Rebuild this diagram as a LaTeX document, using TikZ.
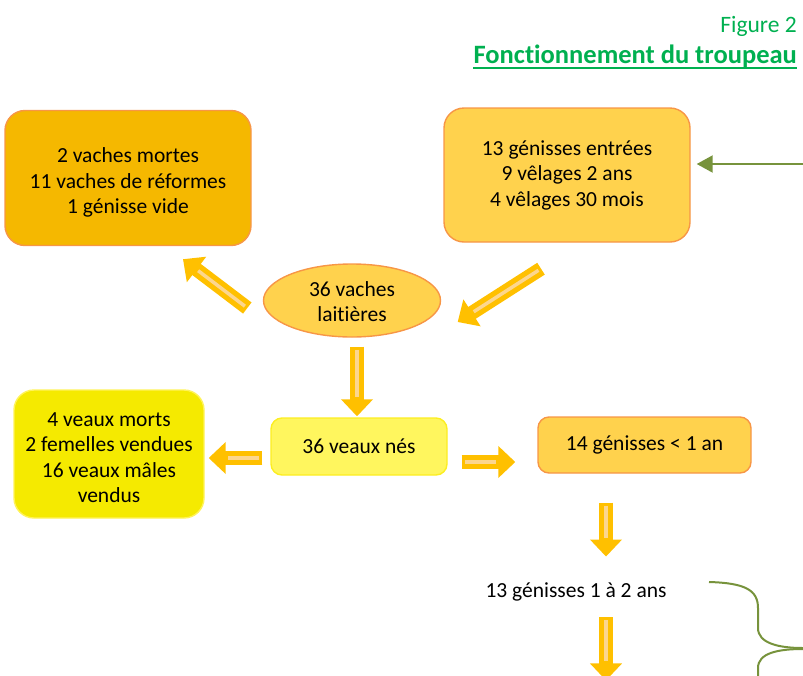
\documentclass[tikz,border=0pt]{standalone}
\usepackage{fontspec}
\setmainfont{Carlito}[Ligatures=NoCommon]
\usetikzlibrary{arrows.meta,shapes.geometric}
\definecolor{ambre}{HTML}{F5B800}
\definecolor{ambreclair}{HTML}{FFD24D}
\definecolor{bordorange}{HTML}{F79646}
\definecolor{jaune}{HTML}{F5EA00}
\definecolor{jaunebord}{HTML}{FFF35A}
\definecolor{jauneclair}{HTML}{FFF65E}
\definecolor{jauneclairbord}{HTML}{FCEE21}
\definecolor{fleche}{HTML}{FFC000}
\definecolor{rayure}{HTML}{FCD68E}
\definecolor{olive}{HTML}{77933C}
\definecolor{titrevert}{HTML}{00B050}
\tikzset{
  boite/.style={rounded corners=20pt, line width=1.4pt, align=center, inner sep=0pt,
    font=\fontsize{21.5}{25.5}\selectfont},
  flux/.style={fleche, line width=14pt, -{Triangle[width=31pt,length=17pt]}},
  rayon/.style={rayure, line width=3.5pt, shorten >=19pt, shorten <=3pt},
}
\begin{document}
\begin{tikzpicture}[x=1pt, y=-1pt]
  \clip (0,0) rectangle (803,675);
  \node[anchor=base east, inner sep=0pt, titrevert, font=\fontsize{23.5}{26}\selectfont] (fig) at (797,32) {Figure 2};
  \node[anchor=base east, inner sep=0pt, titrevert, font=\fontsize{26.5}{30}\selectfont\bfseries] (titre) at (797,63) {Fonctionnement du troupeau};
  \draw[titrevert, line width=2pt] ([yshift=-5pt]titre.base west) -- ([yshift=-5pt]titre.base east);
  \node[boite, fill=ambre, draw=bordorange, minimum width=246pt, minimum height=135pt] (mortes) at (128,178)
    {\rule{0pt}{24pt}2 vaches mortes\\11 vaches de réformes\\1 génisse vide};
  \node[boite, fill=ambreclair, draw=bordorange, minimum width=246pt, minimum height=134pt] (entrees) at (567,175)
    {13 génisses entrées\\9 vêlages 2 ans\\4 vêlages 30 mois};
  \node[ellipse, fill=ambreclair, draw=bordorange, line width=1.4pt, align=center, inner sep=0pt,
    minimum width=177pt, minimum height=73pt, font=\fontsize{21.5}{25}\selectfont] (laitieres) at (352,300.5)
    {\rule{0pt}{18pt}36 vaches\\laitières};
  \node[boite, rounded corners=11pt, fill=jauneclair, draw=jauneclairbord, minimum width=176pt, minimum height=57pt] (nes) at (359,446.5)
    {36 veaux nés};
  \node[boite, fill=jaune, draw=jaunebord, minimum width=190pt, minimum height=128pt] (veaux) at (109,454)
    {\rule{0pt}{21pt}4 veaux morts\\2 femelles vendues\\16 veaux mâles\\vendus};
  \node[boite, rounded corners=11pt, fill=ambreclair, draw=bordorange, minimum width=213pt, minimum height=56pt] (gen1) at (644.5,445)
    {14 génisses < 1 an};
  \node[font=\fontsize{21.5}{25}\selectfont, inner sep=0pt] (gen2) at (576,592) {13 génisses 1 à 2 ans};
  \coordinate (a1) at ([shift={(-15.5,7.5)}]laitieres.west);
  \coordinate (b1) at ([shift={(55,13)}]mortes.south);
  \coordinate (a2) at ([shift={(-26,26)}]entrees.south);
  \coordinate (b2) at ([shift={(16.5,21.5)}]laitieres.east);
  \coordinate (a3) at ([shift={(5,9)}]laitieres.south);
  \coordinate (b3) at ([shift={(-2,-1)}]nes.north);
  \coordinate (a4) at ([shift={(-8,11.5)}]nes.west);
  \coordinate (b4) at ([shift={(4,4)}]veaux.east);
  \coordinate (a5) at ([shift={(14,15.5)}]nes.east);
  \coordinate (b5) at ([shift={(-22,17)}]gen1.west);
  \coordinate (a6) at ([shift={(-38.5,29)}]gen1.south);
  \coordinate (b6) at ([shift={(30,-26)}]gen2.north);
  \coordinate (a7) at ([shift={(30,16)}]gen2.south);
  \coordinate (b7) at ([shift={(30,79)}]gen2.south);
  \foreach \i in {1,...,7} {
    \draw[flux] (a\i) -- (b\i);
    \draw[rayon] (a\i) -- (b\i);
  }
  \coordinate (depart) at (803,164);
  \draw[olive, line width=2pt, -{Triangle[width=17pt,length=16pt]}] (depart) -- ([shift={(6,-11)}]entrees.east);
  \coordinate (accolade) at (709,582);
  \draw[olive, line width=2pt] (accolade) .. controls (745,583) and (758,590) .. (758,608)
    -- (758,628) .. controls (758,643) and (778,648) .. (803,648);
  \draw[olive, line width=2pt] (803,649) .. controls (778,649) and (758,653) .. (758,668) -- (758,690);
\end{tikzpicture}
\end{document}
